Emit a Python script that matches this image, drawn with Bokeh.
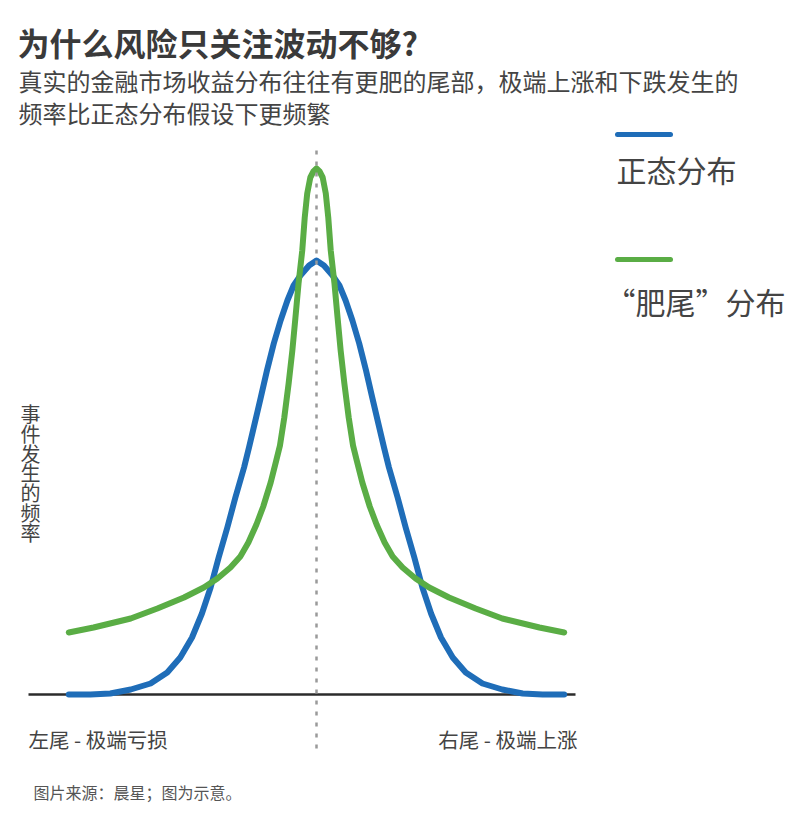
from bokeh.plotting import figure
from bokeh.models import Label, Range1d, ColumnDataSource
from bokeh.core.properties import value
from bokeh.embed import file_html
from bokeh.resources import INLINE

# ---------------- data ----------------
# x: return in standard-deviation-like units; y: relative frequency
x_normal = [-4.00, -3.65, -3.33, -3.00, -2.68, -2.41, -2.20, -2.01, -1.85, -1.71,
            -1.58, -1.44, -1.31, -1.17, -1.09, -1.01, -0.90, -0.80, -0.69, -0.58,
            -0.47, -0.37, -0.26, -0.12, 0.00,
            0.12, 0.26, 0.37, 0.47, 0.58, 0.69, 0.80, 0.90, 1.01, 1.09,
            1.17, 1.31, 1.44, 1.58, 1.71, 1.85, 2.01, 2.20, 2.41, 2.68,
            3.00, 3.33, 3.65, 4.00]
y_normal = [0.000, 0.000, 0.001, 0.005, 0.011, 0.022, 0.037, 0.057, 0.081, 0.107,
            0.137, 0.167, 0.197, 0.227, 0.247, 0.268, 0.297, 0.324, 0.351, 0.374,
            0.394, 0.409, 0.419, 0.429, 0.434,
            0.429, 0.419, 0.409, 0.394, 0.374, 0.351, 0.324, 0.297, 0.268, 0.247,
            0.227, 0.197, 0.167, 0.137, 0.107, 0.081, 0.057, 0.037, 0.022, 0.011,
            0.005, 0.001, 0.000, 0.000]

x_fat = [-4.00, -3.60, -3.00, -2.57, -2.14, -1.82, -1.60, -1.39, -1.23, -1.10,
         -0.97, -0.86, -0.74, -0.65, -0.59, -0.52, -0.45, -0.39, -0.34, -0.29,
         -0.23, -0.19, -0.15, -0.10, -0.05, 0.00,
         0.05, 0.10, 0.15, 0.19, 0.23, 0.29, 0.34, 0.39, 0.45, 0.52,
         0.59, 0.65, 0.74, 0.86, 0.97, 1.10, 1.23, 1.39, 1.60, 1.82,
         2.14, 2.57, 3.00, 3.60, 4.00]
y_fat = [0.062, 0.067, 0.076, 0.086, 0.097, 0.107, 0.116, 0.127, 0.138, 0.152,
         0.170, 0.188, 0.212, 0.234, 0.249, 0.277, 0.311, 0.344, 0.377, 0.411,
         0.444, 0.477, 0.501, 0.517, 0.523, 0.526,
         0.523, 0.517, 0.501, 0.477, 0.444, 0.411, 0.377, 0.344, 0.311, 0.277,
         0.249, 0.234, 0.212, 0.188, 0.170, 0.152, 0.138, 0.127, 0.116, 0.107,
         0.097, 0.086, 0.076, 0.067, 0.062]

series_names = ["正态分布", "“肥尾”分布"]
title_text = "为什么风险只关注波动不够?"
subtitle_lines = ["真实的金融市场收益分布往往有更肥的尾部，极端上涨和下跌发生的",
                  "频率比正态分布假设下更频繁"]
ylabel_text = "事件发生的频率"
left_label = "左尾 - 极端亏损"
right_label = "右尾 - 极端上涨"
source_note = "图片来源：晨星；图为示意。"

# ---------------- layout ----------------
W, H = 796, 804
FONT = "Noto Sans CJK SC"
BLUE = "#1f6db8"
GREEN = "#5aad45"
TEXT = "#444444"

# pixel anchors (canvas coords): x=-4 -> 68.3px, x=0 -> 316px ; y=0 -> 694px ; 1000 px per unit
sx = (316 - 68.3) / 4.0
sy = 1000.0
x0 = -4.0 - 68.3 / sx
y_top = 694 / sy


def X(px):
    return x0 + px / sx


def Y(py):
    return (694 - py) / sy


p = figure(width=W, height=H, output_backend="svg", toolbar_location=None,
           x_range=Range1d(x0, x0 + W / sx), y_range=Range1d(y_top - H / sy, y_top),
           x_axis_location=None, y_axis_location=None,
           min_border=0, min_border_left=0, min_border_right=0,
           min_border_top=0, min_border_bottom=0)
p.grid.visible = False
p.outline_line_color = None
p.background_fill_color = "white"
p.border_fill_color = "white"

# baseline axis line
p.segment(x0=[X(28)], y0=[0], x1=[X(575)], y1=[0], line_color="#2b2b2b", line_width=2.5)

# curves
p.line(x_normal, y_normal, line_color=BLUE, line_width=6, line_cap="round", line_join="round")
p.line(x_fat, y_fat, line_color=GREEN, line_width=6, line_cap="round", line_join="round")

# dotted mean line
p.segment(x0=[0], y0=[Y(748)], x1=[0], y1=[Y(145)], line_color="#9a9a9a",
          line_width=2.5, line_dash="4 7")

# title / subtitle
p.add_layout(Label(x=X(17), y=Y(41), text=title_text, text_font=FONT, text_font_size="32px",
                   text_font_style="bold", text_color="#3a3a3a", text_baseline="middle"))
for i, line in enumerate(subtitle_lines):
    p.add_layout(Label(x=X(18), y=Y(80 + 31.5 * i), text=line, text_font=FONT,
                       text_font_size="24px", text_color=TEXT, text_baseline="middle"))

# legend
for name, color, ly, ty, tx in [(series_names[0], BLUE, 134, 168, 616),
                                 (series_names[1], GREEN, 259, 300, 605)]:
    p.segment(x0=[X(617)], y0=[Y(ly)], x1=[X(670)], y1=[Y(ly)], line_color=color,
              line_width=5, line_cap="round")
    p.add_layout(Label(x=X(tx), y=Y(ty), text=name, text_font=FONT, text_font_size="30px",
                       text_color=TEXT, text_baseline="middle"))

# vertical y label
chars = list(ylabel_text)
src = ColumnDataSource(dict(x=[X(30)] * len(chars), y=[Y(413 + 19.8 * i) for i in range(len(chars))],
                            t=chars))
p.text(x="x", y="y", text="t", source=src, text_font=value(FONT), text_font_size="20px",
       text_color=TEXT, text_align="center", text_baseline="middle")

# tail labels
p.add_layout(Label(x=X(28), y=Y(738), text=left_label, text_font=FONT, text_font_size="20.5px",
                   text_color=TEXT, text_baseline="middle"))
p.add_layout(Label(x=X(577), y=Y(738), text=right_label, text_font=FONT, text_font_size="20.5px",
                   text_color=TEXT, text_baseline="middle", text_align="right"))

# source note
p.add_layout(Label(x=X(33), y=Y(791), text=source_note, text_font=FONT, text_font_size="16px",
                   text_color="#555555", text_baseline="middle"))

open("out.html", "w").write(file_html(p, INLINE))
